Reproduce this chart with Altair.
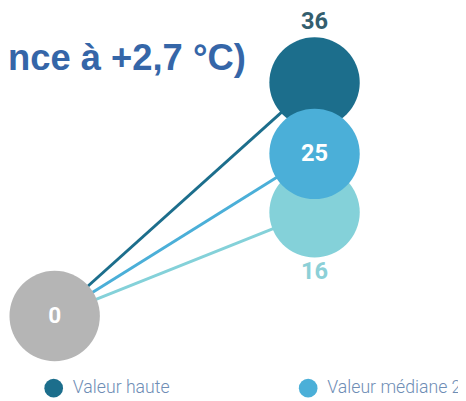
import altair as alt
import pandas as pd

# ---- data ----
series = ["Valeur haute", "Valeur médiane 2,7 °C", "Valeur basse"]
values = [36, 25, 16]
start_label = "0"
start_value = 0
colors = ["#1C6E8C", "#4BAFD8", "#84D1D9"]
label_colors = ["#335E6E", "#FFFFFF", "#8CD0D7"]
label_dy = [-61, 0, 61]
draw_order = [0, 2, 1]  # medium drawn last (on top)
title_text = "nce à +2,7 °C)"

W, H = 458, 390
x_scale = alt.Scale(domain=[-47.5 / 264.5, (W - 47.5) / 264.5])
y_scale = alt.Scale(domain=[-(H - 310) / 6.6, 310 / 6.6])
color_scale = alt.Scale(domain=series, range=colors)

lines_df = pd.DataFrame(
    [{"serie": s, "x": 0, "value": start_value} for s in series]
    + [{"serie": s, "x": 1, "value": v} for s, v in zip(series, values)]
)
ends_df = pd.DataFrame(
    [{"serie": series[i], "x": 1, "value": values[i], "label": str(values[i]), "o": k}
     for k, i in enumerate(draw_order)]
)
start_df = pd.DataFrame([{"x": 0, "value": start_value, "label": start_label}])
title_df = pd.DataFrame([{"t": title_text}])

X = alt.X("x:Q", scale=x_scale, axis=None)
Y = alt.Y("value:Q", scale=y_scale, axis=None)

legend = alt.Legend(
    orient="none", legendX=37, legendY=374, direction="horizontal", title=None,
    symbolType="circle", symbolSize=361, symbolStrokeWidth=0, symbolOpacity=1,
    labelFont="Roboto", labelFontSize=18, labelFontWeight=300, labelColor="#6E8DB5",
    columnPadding=131, labelOffset=10, labelLimit=400, padding=0,
)

lines = alt.Chart(lines_df).mark_line(strokeWidth=3).encode(
    x=X, y=Y, detail="serie:N",
    color=alt.Color("serie:N", scale=color_scale, legend=legend),
)

start_circle = alt.Chart(start_df).mark_circle(size=92 * 92, opacity=1, color="#B5B5B5").encode(x=X, y=Y)
start_text = alt.Chart(start_df).mark_text(
    font="Roboto", fontWeight="bold", fontSize=23, color="white", baseline="middle"
).encode(x=X, y=Y, text="label:N")

end_circles = alt.Chart(ends_df).mark_circle(size=92 * 92, opacity=1).encode(
    x=X, y=Y, order=alt.Order("o:Q"),
    color=alt.Color("serie:N", scale=color_scale, legend=legend),
)

end_texts = [
    alt.Chart(ends_df).transform_filter(alt.datum.serie == series[i]).mark_text(
        font="Roboto", fontWeight="bold", fontSize=24, baseline="middle",
        color=label_colors[i], dy=label_dy[i],
    ).encode(x=X, y=Y, text="label:N")
    for i in range(len(series))
]

title = alt.Chart(title_df).mark_text(
    font="Liberation Sans", fontWeight="bold", fontSize=37, color="#3566A8",
    align="left", baseline="alphabetic",
).encode(x=alt.value(0), y=alt.value(60), text="t:N")

chart = alt.layer(lines, start_circle, start_text, end_circles, *end_texts, title).properties(
    width=W, height=H, padding=0, autosize=alt.AutoSizeParams(type="none")
).configure(background="white").configure_view(stroke=None)

chart.save("out.html", embed_options={"renderer": "svg", "actions": False})
